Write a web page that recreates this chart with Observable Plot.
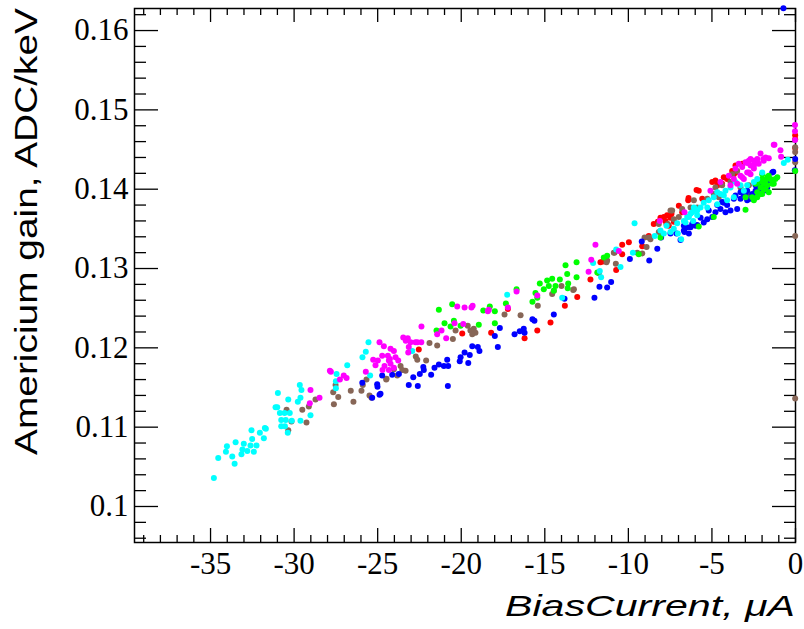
<!DOCTYPE html>
<html><head><meta charset="utf-8">
<script src="https://cdn.jsdelivr.net/npm/d3@7"></script>
<script src="https://cdn.jsdelivr.net/npm/@observablehq/plot@0.6"></script>
<style>html,body{margin:0;padding:0;background:#fff;}
.tl text{font-family:"Liberation Serif","Times New Roman",Times,serif !important;}</style>
</head><body><div id="chart"></div>
<script>
// ---- data ----
const seriesNames = ["run A","run B","run C","run D","run E","run F"];
const seriesColors = ["#ff0000","#876657","#0000ff","#00ff00","#00ffff","#ff00ff"];

const runA = [[-22.54,0.1198],[-19.94,0.1218],[-18.21,0.1219],[-17.21,0.1249],[-16.21,0.1212],[-15.45,0.1222],[-14.66,0.1232],[-13.80,0.1253],[-13.06,0.1264],[-12.27,0.1286],[-11.67,0.1308],[-11.51,0.1309],[-10.73,0.1298],[-10.37,0.1318],[-10.37,0.1330],[-9.97,0.1333],[-9.17,0.1328],[-8.78,0.1341],[-8.48,0.1356],[-8.24,0.1359],[-8.08,0.1364],[-7.88,0.1365],[-7.78,0.1360],[-7.72,0.1356],[-7.68,0.1367],[-7.58,0.1354],[-7.48,0.1364],[-7.42,0.1369],[-7.28,0.1359],[-6.98,0.1379],[-6.78,0.1371],[-6.42,0.1386],[-6.40,0.1389],[-5.92,0.1399],[-5.79,0.1398],[-5.58,0.1388],[-4.98,0.1409],[-4.79,0.1411],[-4.68,0.1405],[-4.59,0.1406],[-4.39,0.1407],[-4.29,0.1415],[-4.09,0.1413],[-3.79,0.1423],[-3.69,0.1419],[-3.59,0.1421],[-3.59,0.1430],[-3.19,0.1432],[-0.02,0.1452],[-0.02,0.1463],[-0.02,0.1468]];

const runB = [[-30.45,0.1122],[-30.16,0.1107],[-30.35,0.1096],[-29.26,0.1106],[-29.51,0.1122],[-29.12,0.1126],[-28.72,0.1135],[-27.62,0.1129],[-27.36,0.1138],[-27.52,0.1153],[-27.66,0.1144],[-26.61,0.1146],[-26.45,0.1132],[-25.97,0.1146],[-25.89,0.1153],[-25.67,0.1160],[-25.49,0.1140],[-25.37,0.1137],[-24.49,0.1160],[-24.03,0.1173],[-23.83,0.1165],[-23.63,0.1177],[-23.33,0.1171],[-24.47,0.1161],[-23.53,0.1172],[-22.72,0.1189],[-22.63,0.1185],[-22.10,0.1184],[-21.90,0.1206],[-21.44,0.1203],[-20.50,0.1211],[-20.34,0.1222],[-19.61,0.1228],[-19.45,0.1222],[-19.25,0.1224],[-19.15,0.1219],[-19.34,0.1217],[-17.41,0.1242],[-16.45,0.1241],[-15.42,0.1253],[-14.00,0.1278],[-14.46,0.1272],[-13.30,0.1273],[-13.26,0.1274],[-14.56,0.1268],[-11.77,0.1294],[-10.75,0.1306],[-11.27,0.1310],[-10.87,0.1320],[-11.31,0.1308],[-10.83,0.1320],[-9.17,0.1319],[-9.47,0.1320],[-8.91,0.1327],[-8.68,0.1337],[-8.78,0.1339],[-9.03,0.1339],[-8.18,0.1346],[-8.18,0.1356],[-7.64,0.1356],[-7.48,0.1373],[-7.38,0.1373],[-7.28,0.1362],[-6.98,0.1365],[-6.78,0.1375],[-6.28,0.1377],[-6.08,0.1386],[-5.88,0.1377],[-5.28,0.1388],[-4.89,0.1394],[-4.79,0.1402],[-4.59,0.1390],[-4.39,0.1405],[-3.89,0.1409],[-3.79,0.1419],[-3.49,0.1423],[-3.29,0.1402],[-2.79,0.1405],[-2.89,0.1394],[-0.02,0.1453],[-0.02,0.1447],[-0.02,0.1434],[-0.02,0.1423],[-0.02,0.1341],[-0.02,0.1136]];

const runC = [[-25.92,0.1156],[-25.03,0.1154],[-25.01,0.1151],[-25.33,0.1137],[-24.89,0.1141],[-24.83,0.1142],[-24.73,0.1165],[-24.13,0.1166],[-23.73,0.1167],[-23.14,0.1153],[-22.87,0.1163],[-22.60,0.1152],[-22.48,0.1167],[-22.27,0.1176],[-22.24,0.1172],[-21.80,0.1166],[-21.60,0.1175],[-21.34,0.1179],[-21.04,0.1177],[-20.78,0.1177],[-20.84,0.1185],[-20.80,0.1152],[-20.09,0.1183],[-20.04,0.1188],[-19.80,0.1194],[-19.58,0.1181],[-19.49,0.1191],[-19.34,0.1202],[-19.01,0.1201],[-18.91,0.1196],[-17.81,0.1201],[-17.99,0.1215],[-17.69,0.1225],[-16.81,0.1217],[-16.50,0.1221],[-16.26,0.1224],[-16.21,0.1219],[-15.74,0.1236],[-15.62,0.1234],[-14.46,0.1242],[-13.82,0.1262],[-12.03,0.1263],[-11.73,0.1277],[-11.27,0.1276],[-11.03,0.1283],[-9.91,0.1312],[-8.75,0.1310],[-9.20,0.1334],[-8.27,0.1325],[-8.04,0.1339],[-7.48,0.1344],[-7.12,0.1344],[-6.88,0.1336],[-6.64,0.1346],[-6.28,0.1352],[-6.12,0.1358],[-6.38,0.1344],[-5.88,0.1355],[-6.68,0.1348],[-3.49,0.1375],[-3.89,0.1373],[-4.19,0.1371],[-4.49,0.1375],[-4.79,0.1371],[-4.98,0.1365],[-5.28,0.1362],[-5.49,0.1358],[-5.98,0.1354],[-6.18,0.1356],[-6.48,0.1352],[-6.68,0.1354],[-5.19,0.1373],[-4.68,0.1380],[-4.39,0.1384],[-4.09,0.1380],[-3.29,0.1388],[-3.09,0.1392],[-2.89,0.1386],[-2.59,0.1394],[-2.39,0.1398],[-2.20,0.1402],[-1.99,0.1405],[-1.79,0.1406],[-2.29,0.1392],[-2.09,0.1396],[-2.69,0.1388],[-1.60,0.1411],[-1.39,0.1421],[-2.39,0.1405],[-3.59,0.1392],[-3.29,0.1396],[-1.90,0.1398],[-1.69,0.1402],[-2.20,0.1410],[-2.89,0.1398],[-1.33,0.1422],[-2.99,0.1394],[-3.69,0.1388],[-4.29,0.1383],[-5.68,0.1364],[-0.02,0.1438],[-0.04,0.1424],[-0.72,0.1628]];

const runD = [[-21.34,0.1248],[-20.54,0.1255],[-21.00,0.1231],[-21.48,0.1222],[-20.64,0.1227],[-20.44,0.1234],[-20.04,0.1228],[-18.95,0.1229],[-18.68,0.1247],[-18.29,0.1252],[-17.99,0.1246],[-17.99,0.1231],[-17.33,0.1256],[-16.69,0.1274],[-15.74,0.1258],[-15.56,0.1269],[-15.45,0.1263],[-15.30,0.1281],[-15.06,0.1274],[-14.86,0.1285],[-14.76,0.1278],[-14.56,0.1287],[-14.46,0.1272],[-14.10,0.1286],[-14.36,0.1278],[-13.76,0.1304],[-13.66,0.1293],[-13.60,0.1281],[-13.63,0.1275],[-13.10,0.1308],[-13.10,0.1289],[-11.47,0.1314],[-11.27,0.1316],[-11.86,0.1295],[-9.38,0.1318],[-8.08,0.1339],[-5.79,0.1353],[-4.89,0.1365],[-2.99,0.1374],[-2.99,0.1390],[-2.59,0.1390],[-2.49,0.1386],[-2.29,0.1390],[-2.29,0.1396],[-2.09,0.1394],[-2.09,0.1402],[-1.99,0.1394],[-1.90,0.1400],[-1.79,0.1400],[-1.60,0.1396],[-2.39,0.1407],[-2.20,0.1409],[-1.99,0.1413],[-1.99,0.1419],[-1.90,0.1407],[-1.79,0.1411],[-1.69,0.1405],[-1.69,0.1415],[-1.60,0.1417],[-1.50,0.1413],[-1.39,0.1407],[-1.39,0.1411],[-1.30,0.1407],[-1.20,0.1413],[-1.09,0.1415],[-0.02,0.1423]];

const runE = [[-34.80,0.1036],[-34.54,0.1061],[-34.08,0.1069],[-34.02,0.1076],[-33.70,0.1063],[-33.56,0.1054],[-33.50,0.1081],[-33.15,0.1066],[-33.09,0.1072],[-33.01,0.1079],[-32.80,0.1070],[-32.61,0.1077],[-32.51,0.1085],[-32.55,0.1096],[-32.41,0.1069],[-32.25,0.1077],[-32.05,0.1093],[-31.81,0.1086],[-31.75,0.1099],[-31.69,0.1098],[-31.11,0.1125],[-31.01,0.1125],[-30.97,0.1143],[-30.85,0.1118],[-30.77,0.1109],[-30.77,0.1101],[-30.57,0.1118],[-30.50,0.1109],[-30.55,0.1101],[-30.38,0.1093],[-30.35,0.1135],[-30.26,0.1118],[-30.14,0.1108],[-29.78,0.1132],[-29.66,0.1153],[-29.62,0.1137],[-29.62,0.1108],[-29.56,0.1147],[-29.02,0.1115],[-27.50,0.1158],[-27.46,0.1167],[-27.50,0.1149],[-26.82,0.1178],[-25.91,0.1188],[-25.71,0.1195],[-25.55,0.1207],[-25.45,0.1165],[-22.93,0.1196],[-17.25,0.1267],[-13.96,0.1263],[-12.11,0.1307],[-11.71,0.1297],[-11.63,0.1289],[-10.73,0.1324],[-10.47,0.1302],[-9.73,0.1320],[-9.63,0.1357],[-8.42,0.1341],[-8.08,0.1348],[-7.88,0.1344],[-7.72,0.1354],[-7.48,0.1346],[-7.28,0.1350],[-7.04,0.1344],[-6.84,0.1337],[-7.08,0.1357],[-6.68,0.1360],[-6.58,0.1358],[-6.48,0.1365],[-6.38,0.1365],[-6.28,0.1369],[-6.18,0.1371],[-6.08,0.1377],[-6.02,0.1376],[-6.12,0.1360],[-5.88,0.1367],[-5.88,0.1373],[-5.68,0.1377],[-5.49,0.1383],[-5.28,0.1377],[-5.19,0.1386],[-4.89,0.1390],[-4.68,0.1396],[-4.68,0.1381],[-4.49,0.1394],[-4.29,0.1392],[-4.19,0.1398],[-4.09,0.1386],[-3.89,0.1402],[-3.69,0.1390],[-3.59,0.1409],[-3.29,0.1405],[-3.09,0.1398],[-2.89,0.1405],[-2.49,0.1409],[-2.29,0.1413],[-1.99,0.1421],[-0.70,0.1433],[-0.46,0.1437]];

const runF = [[-29.02,0.1147],[-29.06,0.1130],[-28.48,0.1137],[-27.86,0.1171],[-27.80,0.1170],[-27.26,0.1160],[-27.03,0.1165],[-26.86,0.1162],[-25.71,0.1170],[-25.13,0.1178],[-24.89,0.1207],[-24.63,0.1202],[-24.59,0.1177],[-25.27,0.1185],[-24.99,0.1184],[-24.39,0.1190],[-24.23,0.1199],[-24.03,0.1196],[-24.33,0.1184],[-23.77,0.1184],[-24.71,0.1172],[-24.33,0.1172],[-24.73,0.1190],[-24.27,0.1186],[-23.93,0.1188],[-24.23,0.1180],[-24.03,0.1175],[-23.47,0.1213],[-23.20,0.1212],[-23.32,0.1209],[-23.03,0.1207],[-23.14,0.1201],[-22.74,0.1207],[-22.39,0.1207],[-22.63,0.1207],[-23.17,0.1194],[-22.38,0.1227],[-21.18,0.1222],[-21.44,0.1217],[-20.90,0.1212],[-20.40,0.1231],[-20.24,0.1252],[-19.80,0.1251],[-19.39,0.1251],[-19.32,0.1253],[-18.41,0.1246],[-18.35,0.1248],[-19.88,0.1230],[-16.69,0.1271],[-17.21,0.1251],[-15.45,0.1266],[-12.22,0.1311],[-12.38,0.1296],[-11.97,0.1330],[-10.57,0.1322],[-8.12,0.1360],[-6.64,0.1371],[-5.09,0.1398],[-3.99,0.1417],[-3.59,0.1426],[-3.39,0.1432],[-3.19,0.1428],[-2.99,0.1434],[-2.79,0.1436],[-2.69,0.1430],[-2.49,0.1436],[-2.29,0.1438],[-2.20,0.1432],[-2.09,0.1445],[-1.93,0.1438],[-1.79,0.1440],[-2.49,0.1426],[-2.89,0.1421],[-3.29,0.1417],[-3.69,0.1413],[-3.09,0.1413],[-2.69,0.1419],[-3.49,0.1407],[-3.89,0.1405],[-4.49,0.1409],[-1.30,0.1456],[-0.90,0.1449],[-0.86,0.1441],[-2.69,0.1438],[-1.60,0.1439],[-1.26,0.1456],[-2.79,0.1421],[-2.29,0.1434],[-1.90,0.1436],[-2.49,0.1430],[-2.89,0.1433],[-3.19,0.1415],[-0.03,0.1481],[-0.03,0.1473],[-0.03,0.1462]];

const xTickValues = [-35,-30,-25,-20,-15,-10,-5,0];
const yTickValues = [0.1,0.11,0.12,0.13,0.14,0.15,0.16];
const xDomain = [-39.55, 0];
const yDomain = [0.09546, 0.16278];
const xTitle = "BiasCurrent, \u03bcA";
const yTitle = "Americium gain, ADC/keV";

// ---- build ----
const seriesPoints = [runA, runB, runC, runD, runE, runF];
const table = seriesNames.flatMap((name, i) => seriesPoints[i].map(([x, y]) => ({series: name, x, y})));

const W = 804, H = 629, mL = 134, mR = 9, mT = 8, mB = 87;
const innerW = W - mL - mR, innerH = H - mT - mB;
const xMinor = d3.range(-39, 0).filter(v => v % 5 !== 0);
const yMinor = d3.range(48, 82).filter(i => i % 5 !== 0).map(i => i * 0.002);
const tickStyle = {stroke: "black", strokeWidth: 1.3};
const serif = "'Liberation Serif', 'Times New Roman', Times, serif";

const svg = Plot.plot({
  width: W, height: H,
  marginLeft: mL, marginRight: mR, marginTop: mT, marginBottom: mB,
  style: {background: "white", color: "black"},
  x: {domain: xDomain, label: null},
  y: {domain: yDomain, label: null},
  color: {type: "ordinal", domain: seriesNames, range: seriesColors},
  marks: [
    Plot.frame({stroke: "black", strokeWidth: 1.5}),
    Plot.tickX(xTickValues, {x: d => d, insetTop: innerH - 14, ...tickStyle}),
    Plot.tickX(xMinor, {x: d => d, insetTop: innerH - 7, ...tickStyle}),
    Plot.tickX(xTickValues, {x: d => d, insetBottom: innerH - 14, ...tickStyle}),
    Plot.tickX(xMinor, {x: d => d, insetBottom: innerH - 7, ...tickStyle}),
    Plot.tickY(yTickValues, {y: d => d, insetRight: innerW - 24, ...tickStyle}),
    Plot.tickY(yMinor, {y: d => d, insetRight: innerW - 12, ...tickStyle}),
    Plot.tickY(yTickValues, {y: d => d, insetLeft: innerW - 23, ...tickStyle}),
    Plot.tickY(yMinor, {y: d => d, insetLeft: innerW - 11, ...tickStyle}),
    Plot.axisX(xTickValues, {tickSize: 0, tickPadding: 9, label: null, tickFormat: d => String(d), fontSize: 31, fontFamily: serif, className: "tl"}),
    Plot.axisY(yTickValues, {tickSize: 0, tickPadding: 6, label: null, tickFormat: d => String(+d.toFixed(2)), fontSize: 31, fontFamily: serif, className: "tl"}),
    Plot.dot(table, {x: "x", y: "y", fill: "series", r: 3})
  ]
});

const s = d3.select(svg);
s.selectAll("g[aria-label$='tick label'] text, g[aria-label$='tick label']")
  .style("font-family", serif);
s.append("text")
  .attr("transform", "translate(37,455) rotate(-90)")
  .attr("text-anchor", "start")
  .attr("font-family", "'Liberation Sans', Arial, sans-serif")
  .attr("font-size", 31)
  .attr("fill", "black")
  .attr("textLength", 447)
  .attr("lengthAdjust", "spacingAndGlyphs")
  .text(yTitle);
s.append("text")
  .attr("x", 505).attr("y", 616)
  .attr("text-anchor", "start")
  .attr("font-family", "'Liberation Sans', Arial, sans-serif")
  .attr("font-style", "italic")
  .attr("font-size", 29)
  .attr("fill", "black")
  .attr("textLength", 290)
  .attr("lengthAdjust", "spacingAndGlyphs")
  .text(xTitle);

document.getElementById("chart").appendChild(svg);
</script>
</body></html>
